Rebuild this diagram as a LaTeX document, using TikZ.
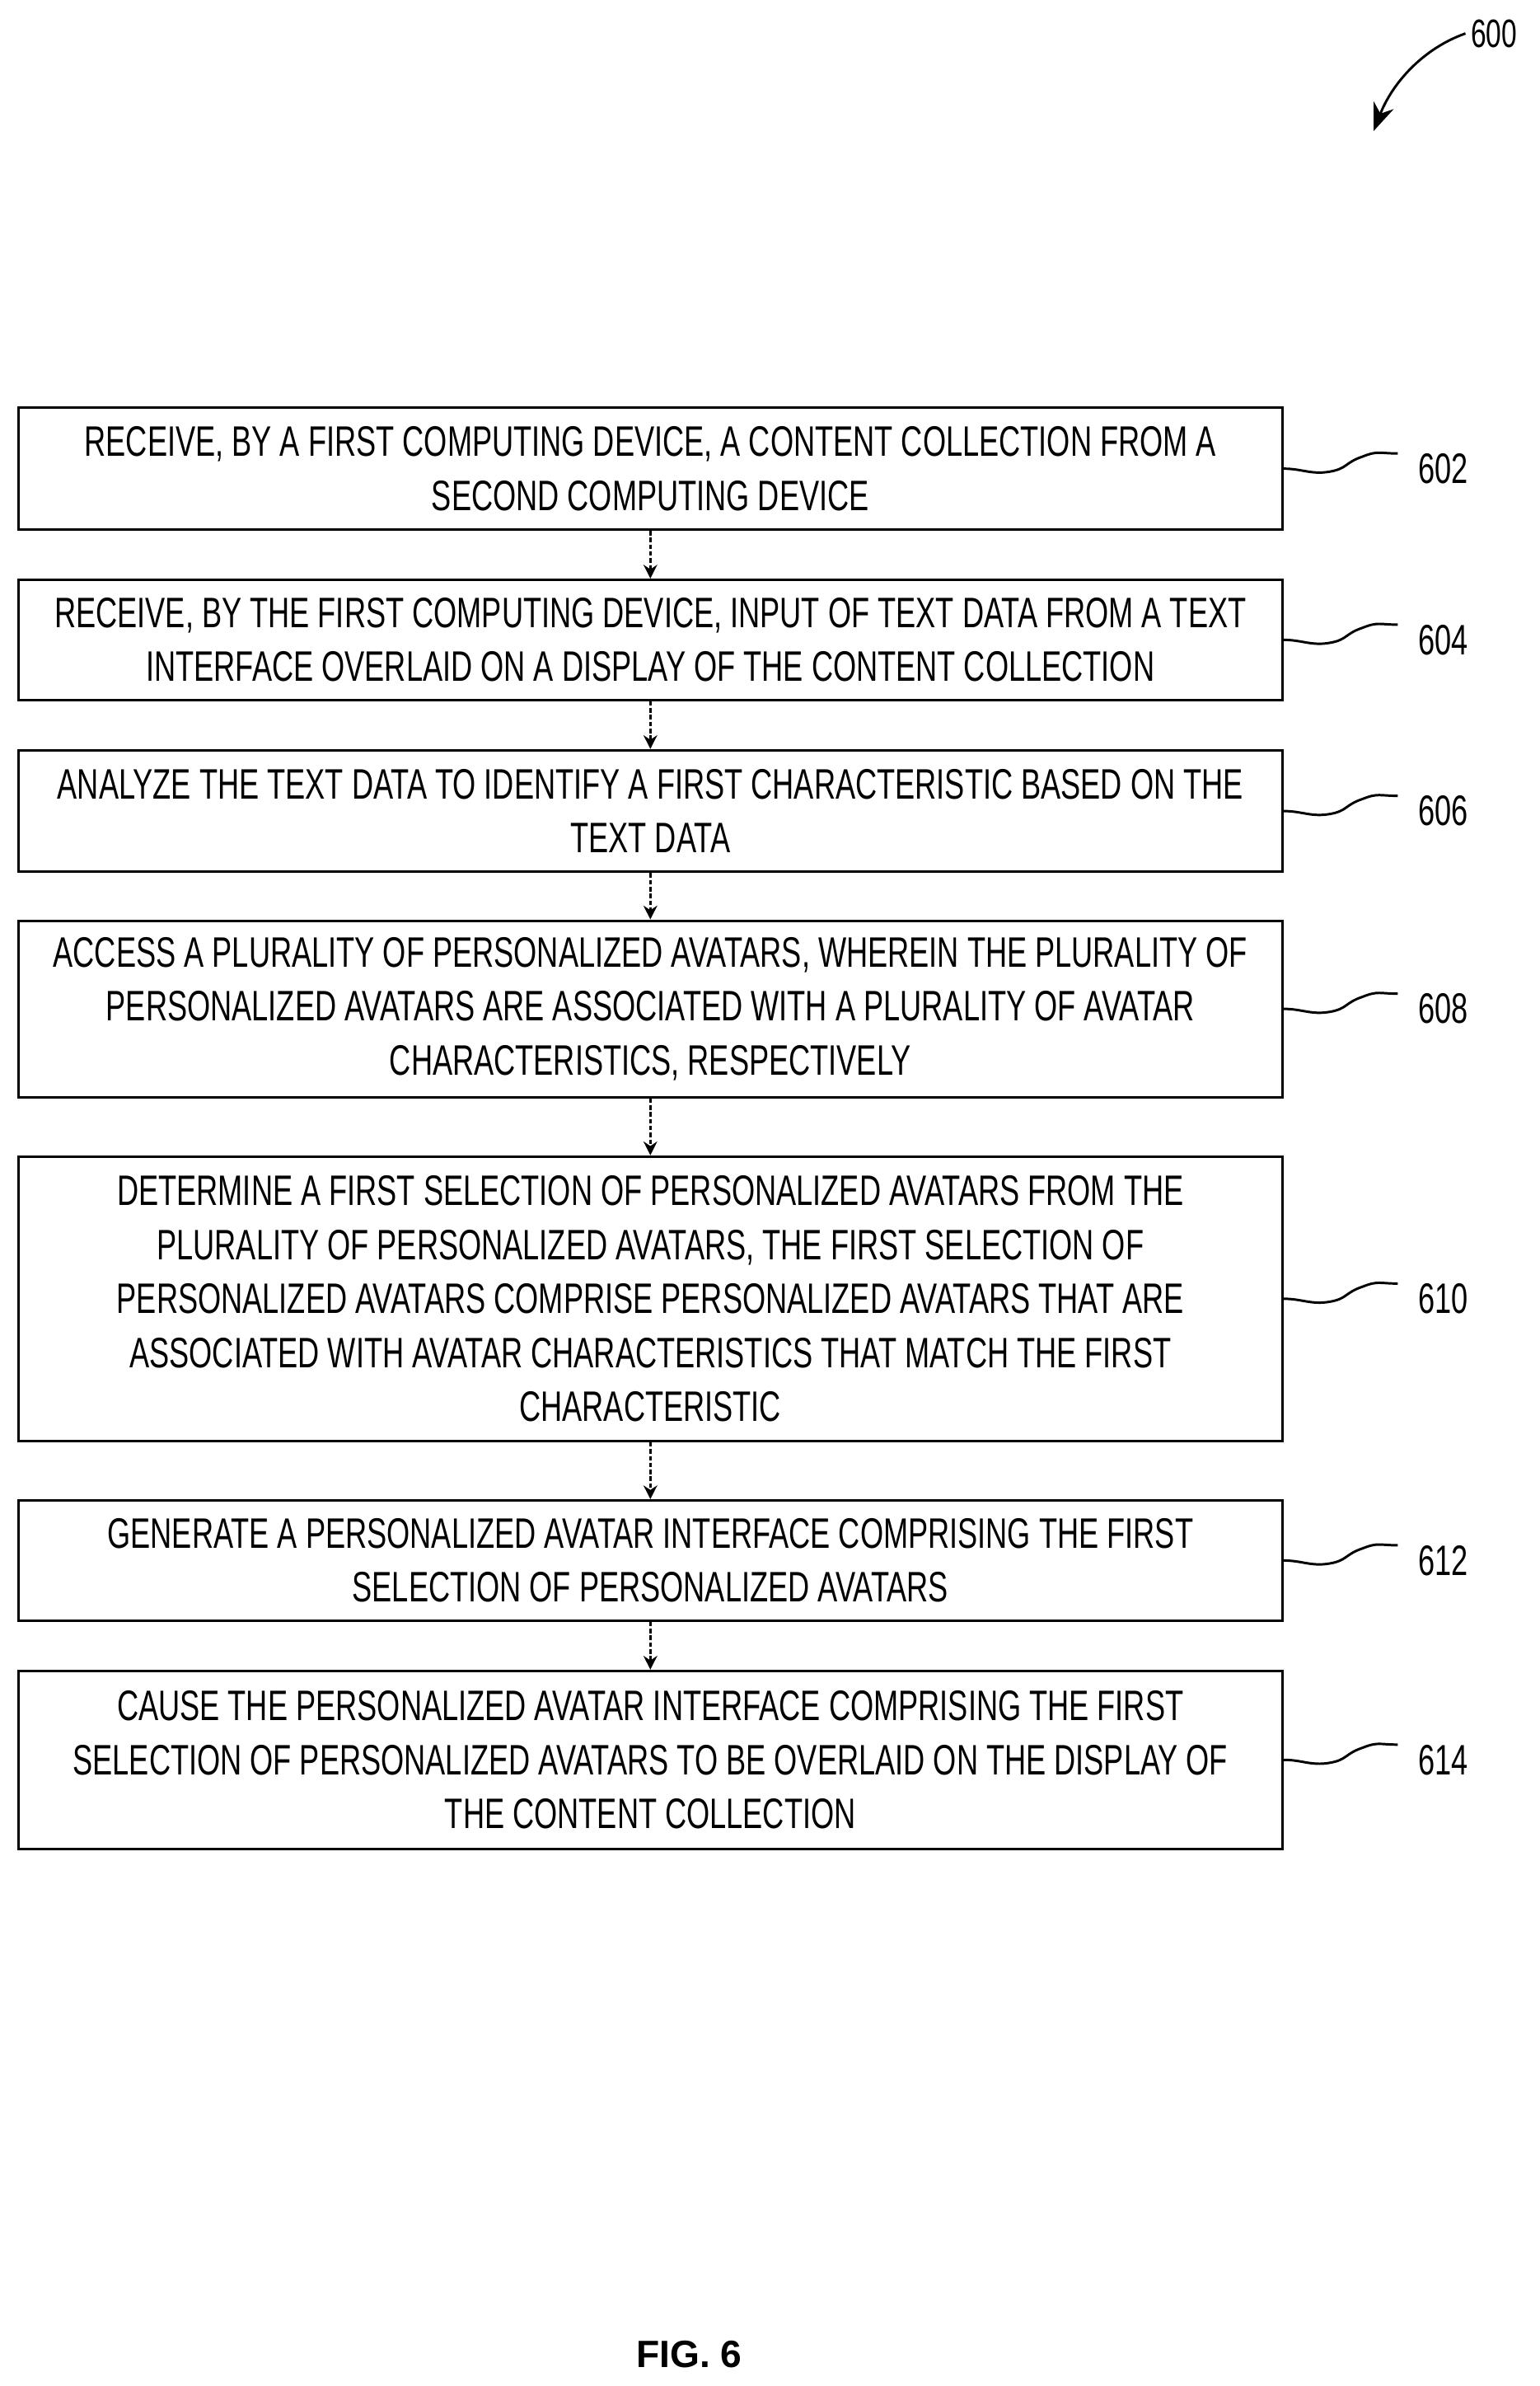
\documentclass[tikz,border=0pt]{standalone}
\usepackage{fontspec}
\setmainfont[FakeStretch=0.7]{Liberation Sans}
\newfontfamily\figfont{Liberation Sans}
\usetikzlibrary{arrows.meta, positioning}

\begin{document}
\begin{tikzpicture}[x=1pt, y=1pt,
    stepbox/.style={rectangle, draw=black, line width=1.6pt, minimum width=831pt, align=center, font=\fontsize{28}{35.5}\selectfont, inner sep=0pt},
    flow/.style={-{Stealth[length=9pt, width=9pt]}, line width=1.6pt, dash pattern=on 3pt off 1.5pt},
    squig/.style={line width=1.6pt},
    reflabel/.style={font=\fontsize{28}{30}\selectfont, anchor=west}]

        % page frame
        \useasboundingbox (0,0) rectangle (1012,-1568);

        % Steps of the flow
        \node[stepbox, minimum height=80pt] at (427.5,-308) (B602) {RECEIVE, BY A FIRST COMPUTING DEVICE, A CONTENT COLLECTION FROM A\\SECOND COMPUTING DEVICE};
        \node[stepbox, minimum height=79pt] at (427.5,-420.5) (B604) {RECEIVE, BY THE FIRST COMPUTING DEVICE, INPUT OF TEXT DATA FROM A TEXT\\INTERFACE OVERLAID ON A DISPLAY OF THE CONTENT COLLECTION};
        \node[stepbox, minimum height=80pt] at (427.5,-533) (B606) {ANALYZE THE TEXT DATA TO IDENTIFY A FIRST CHARACTERISTIC BASED ON THE\\TEXT DATA};
        \node[stepbox, minimum height=116pt] at (427.5,-663) (B608) {ACCESS A PLURALITY OF PERSONALIZED AVATARS, WHEREIN THE PLURALITY OF\\PERSONALIZED AVATARS ARE ASSOCIATED WITH A PLURALITY OF AVATAR\\CHARACTERISTICS, RESPECTIVELY};
        \node[stepbox, minimum height=187pt] at (427.5,-853.5) (B610) {DETERMINE A FIRST SELECTION OF PERSONALIZED AVATARS FROM THE\\PLURALITY OF PERSONALIZED AVATARS, THE FIRST SELECTION OF\\PERSONALIZED AVATARS COMPRISE PERSONALIZED AVATARS THAT ARE\\ASSOCIATED WITH AVATAR CHARACTERISTICS THAT MATCH THE FIRST\\CHARACTERISTIC};
        \node[stepbox, minimum height=79pt] at (427.5,-1025.5) (B612) {GENERATE A PERSONALIZED AVATAR INTERFACE COMPRISING THE FIRST\\SELECTION OF PERSONALIZED AVATARS};
        \node[stepbox, minimum height=117pt] at (427.5,-1156.5) (B614) {CAUSE THE PERSONALIZED AVATAR INTERFACE COMPRISING THE FIRST\\SELECTION OF PERSONALIZED AVATARS TO BE OVERLAID ON THE DISPLAY OF\\THE CONTENT COLLECTION};

        % Arrows between the steps
        \foreach \a/\b in {602/604, 604/606, 606/608, 608/610, 610/612, 612/614} {
            \draw[flow] (B\a.south) -- (B\b.north);
        }

        % Reference numerals with wavy leaders
        \foreach \n in {602, 604, 606, 608, 610, 612, 614} {
            \coordinate (W\n) at ([xshift=75pt, yshift=10pt]B\n.east);
            \draw[squig] (B\n.east) .. controls ++(12,0) and ++(-12,-2) .. ([xshift=30pt, yshift=-2pt]B\n.east) .. controls ++(12,2) and ++(-12,-4) .. ([xshift=52pt, yshift=8pt]B\n.east) .. controls ++(10,4) and ++(-12,0) .. (W\n);
            \node[reflabel] at ([xshift=10pt, yshift=-10pt]W\n) (L\n) {\n};
        }

        % Figure number
        \node[font=\fontsize{26}{28}\selectfont] at (982,-22) (L600) {600};
        \coordinate (A600) at (903,-86);
        \draw[line width=1.6pt, -{Stealth[length=18pt, width=14pt]}] (L600.west) .. controls (935,-32) and (915,-55) .. (A600);

        \node[font=\figfont\bfseries\fontsize{25}{28}\selectfont] at (453,-1547) (FIG) {FIG. 6};

\end{tikzpicture}
\end{document}
